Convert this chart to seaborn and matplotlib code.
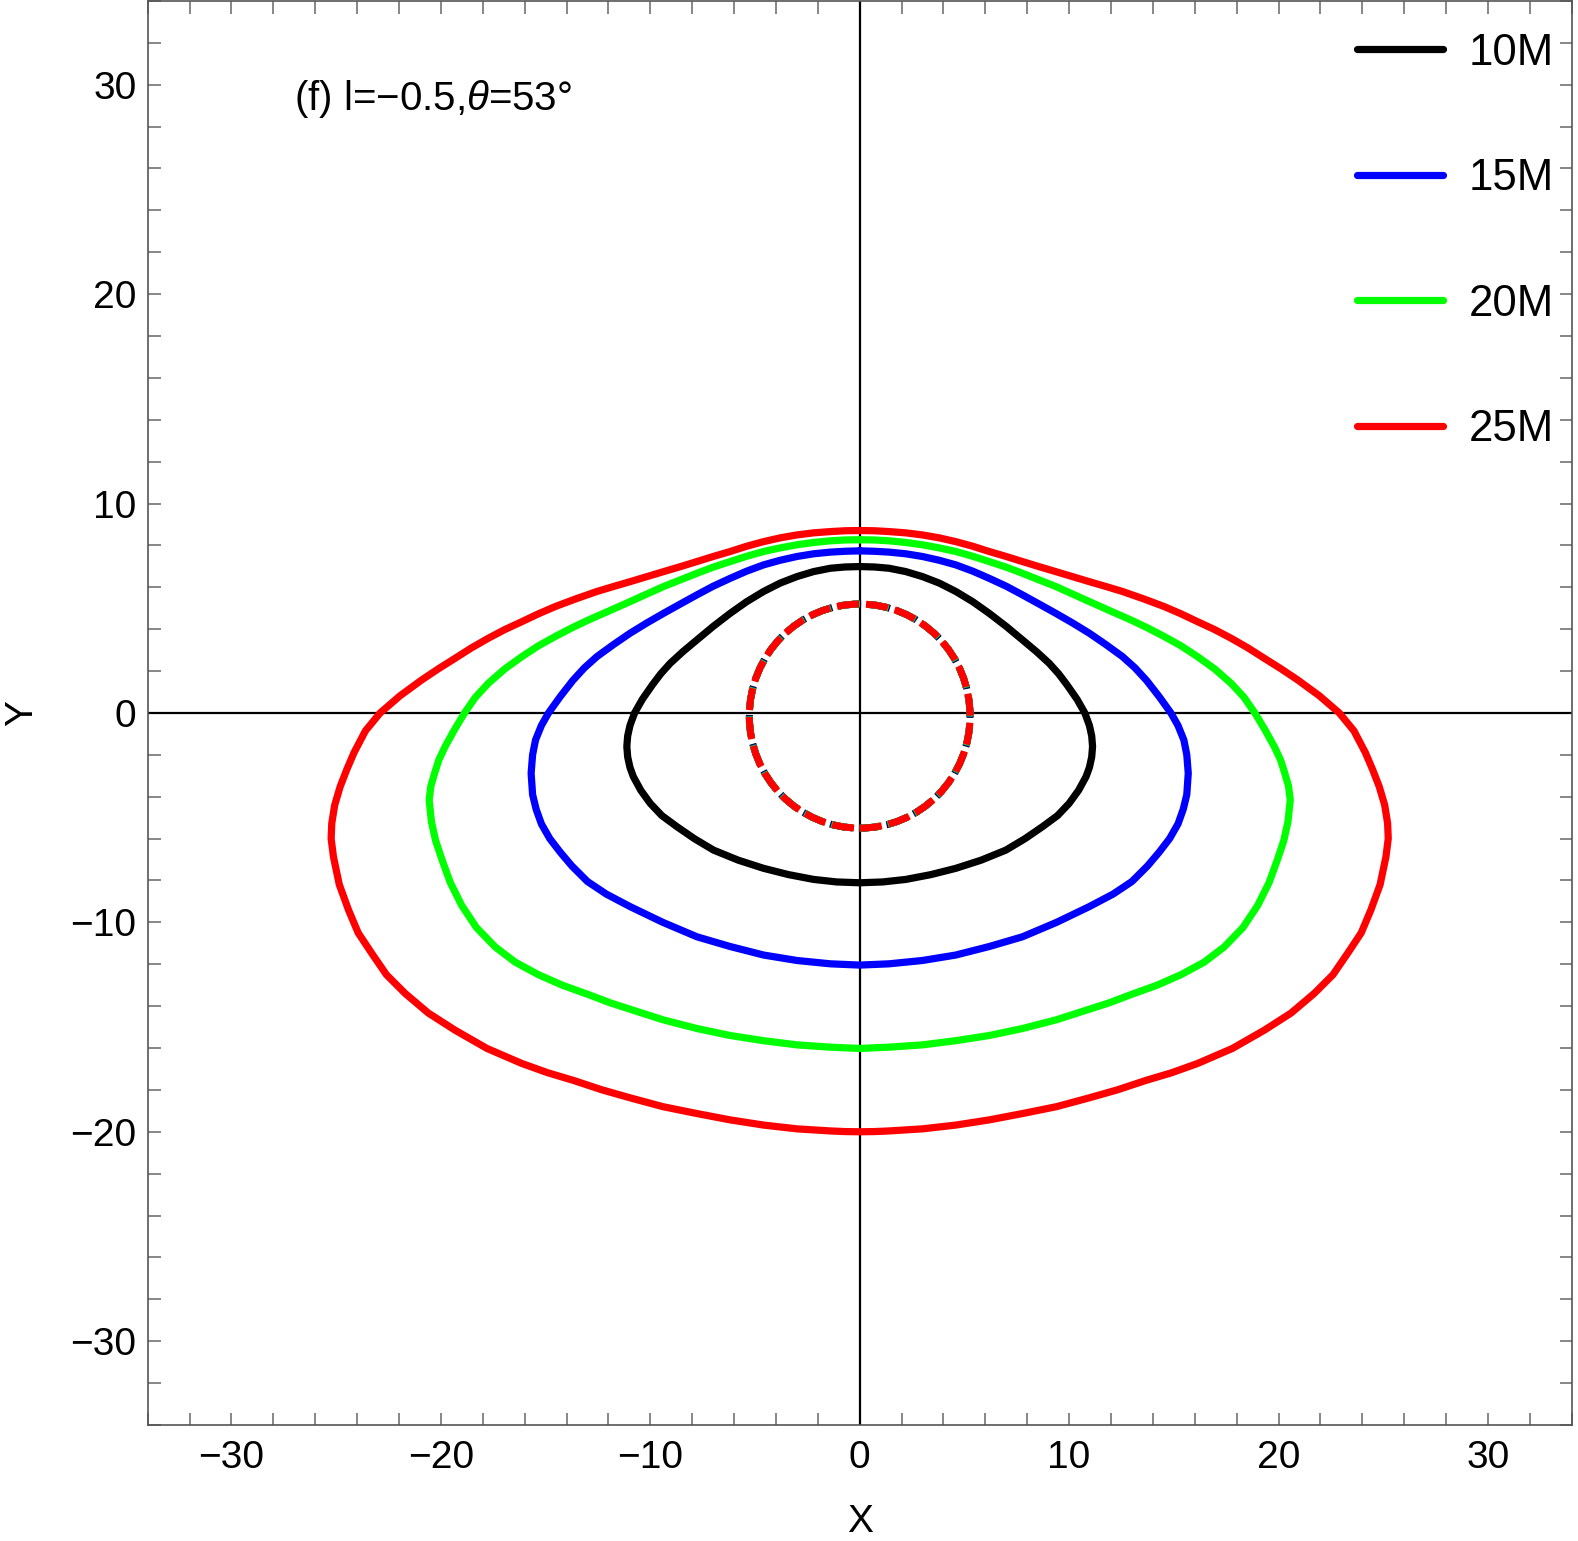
import numpy as np
import pandas as pd
import matplotlib
matplotlib.use('Agg')
import matplotlib.pyplot as plt
from matplotlib.patches import Ellipse
import seaborn as sns

sns.set_style('ticks')
plt.rcParams['font.family'] = ['Liberation Sans', 'DejaVu Sans']
plt.rcParams['mathtext.fontset'] = 'custom'
plt.rcParams['mathtext.it'] = 'Liberation Sans:italic'
plt.rcParams['mathtext.rm'] = 'Liberation Sans'
plt.rcParams['text.color'] = 'black'
plt.rcParams['axes.labelcolor'] = 'black'
plt.rcParams['xtick.labelcolor'] = 'black'
plt.rcParams['ytick.labelcolor'] = 'black'

masses = ['10M', '15M', '20M', '25M']
colors = ['#000000', '#0000ff', '#00ff00', '#ff0000']

# right half of each curve, top (x=0) -> right -> bottom (x=0); curves are mirror symmetric in X
x_10 = [0, 0.7, 1.4, 2.2, 3.0, 3.8, 4.59, 5.4, 6.18, 7.0, 7.77, 8.45, 9.05, 9.5, 9.9, 10.38, 10.75, 10.97, 11.08, 11.12,
        11.08, 10.97, 10.81, 10.45, 10.0, 9.45, 8.73, 7.9, 6.98, 5.8, 4.59, 3.4, 2.2, 1.1, 0]
y_10 = [6.99, 6.97, 6.91, 6.75, 6.51, 6.2, 5.80, 5.31, 4.76, 4.13, 3.49, 2.92, 2.37, 1.87, 1.34, 0.65, 0.0, -0.6, -1.1, -1.6,
        -2.1, -2.6, -3.04, -3.7, -4.32, -4.9, -5.43, -6.0, -6.55, -7.03, -7.42, -7.72, -7.95, -8.07, -8.11]

x_15 = [0, 0.7, 1.4, 2.2, 3.0, 3.8, 4.59, 5.4, 6.18, 7.0, 7.77, 8.55, 9.36, 10.16, 10.96, 11.75, 12.55, 13.15, 13.7, 14.3,
        14.86, 15.2, 15.48, 15.62, 15.69, 15.62, 15.45, 15.2, 14.8, 14.3, 13.75, 13.0, 12.1, 10.96, 9.4, 7.77, 6.2, 4.59,
        3.0, 1.4, 0]
y_15 = [7.74, 7.72, 7.68, 7.6, 7.47, 7.29, 7.07, 6.77, 6.43, 6.05, 5.64, 5.21, 4.76, 4.3, 3.81, 3.27, 2.69, 2.15, 1.55, 0.78,
        0, -0.6, -1.29, -2.0, -2.88, -3.9, -4.6, -5.3, -6.0, -6.65, -7.3, -8.05, -8.65, -9.25, -10.0, -10.69, -11.15, -11.56,
        -11.82, -11.98, -12.04]

x_20 = [0, 0.7, 1.4, 2.2, 3.0, 3.8, 4.59, 5.4, 6.18, 7.0, 7.77, 8.55, 9.36, 10.16, 10.96, 11.95, 12.95, 13.75, 14.54, 15.35,
        16.13, 16.95, 17.73, 18.35, 18.87, 19.35, 19.8, 20.1, 20.3, 20.48, 20.56, 20.45, 20.25, 19.95, 19.55, 19.0, 18.3,
        17.41, 16.45, 15.34, 14.2, 12.95, 11.95, 10.96, 9.4, 7.77, 6.2, 4.59, 3.0, 1.4, 0]
y_20 = [8.27, 8.26, 8.22, 8.14, 8.03, 7.88, 7.71, 7.48, 7.23, 6.96, 6.67, 6.36, 6.04, 5.68, 5.32, 4.88, 4.44, 4.06, 3.65, 3.2,
        2.69, 2.1, 1.42, 0.75, 0, -0.8, -1.61, -2.25, -2.88, -3.5, -4.16, -5.2, -6.1, -7.0, -8.1, -9.2, -10.25,
        -11.17, -11.9, -12.5, -13.0, -13.45, -13.83, -14.15, -14.65, -15.07, -15.4, -15.65, -15.85, -15.96, -16.02]

x_25 = [0, 0.7, 1.4, 2.2, 3.0, 3.8, 4.59, 5.4, 6.18, 7.0, 7.77, 8.55, 9.36, 10.16, 10.96, 11.75, 12.55, 13.55, 14.54, 15.35,
        16.13, 16.95, 17.73, 18.55, 19.32, 20.1, 20.91, 21.95, 22.9, 23.6, 24.15, 24.5, 24.81, 25.07, 25.21, 25.24, 25.13,
        24.85, 24.41, 23.95, 23.3, 22.6, 21.71, 20.6, 19.32, 17.8, 16.13, 14.9, 13.66, 12.3, 10.96, 9.4, 7.77, 6.2, 4.59,
        3.0, 1.4, 0.7, 0]
y_25 = [8.71, 8.7, 8.66, 8.6, 8.5, 8.36, 8.18, 7.96, 7.71, 7.47, 7.23, 6.99, 6.75, 6.51, 6.27, 6.04, 5.8, 5.45, 5.08, 4.73,
        4.36, 3.98, 3.57, 3.1, 2.61, 2.12, 1.58, 0.82, 0, -0.85, -1.9, -2.72, -3.52, -4.4, -5.27, -6.0, -6.87,
        -8.2, -9.41, -10.5, -11.48, -12.5, -13.39, -14.33, -15.15, -16.02, -16.74, -17.18, -17.55, -18.0, -18.38, -18.8,
        -19.13, -19.43, -19.68, -19.86, -19.96, -19.99, -20.0]

# inner dashed ring (same for all masses)
ring_cy = -0.15
ring_rx = 5.27
ring_ry = 5.35

halves = {'10M': (x_10, y_10), '15M': (x_15, y_15), '20M': (x_20, y_20), '25M': (x_25, y_25)}

frames = []
for m in masses:
    hx, hy = np.array(halves[m][0]), np.array(halves[m][1])
    fx = np.r_[hx, -hx[::-1][1:]]
    fy = np.r_[hy, hy[::-1][1:]]
    frames.append(pd.DataFrame({'X': fx, 'Y': fy, 'mass': m}))
df = pd.concat(frames, ignore_index=True)

fig = plt.figure(figsize=(15.78, 15.41), dpi=100)
ax = fig.add_axes([0.0936, 0.0753, 0.9024, 0.9241])

ax.axhline(0, color='black', lw=1.6, zorder=1)
ax.axvline(0, color='black', lw=1.6, zorder=1)

for m, c in zip(masses, colors):
    sub = df[df['mass'] == m]
    sns.lineplot(data=sub, x='X', y='Y', sort=False, estimator=None, color=c,
                 lw=5.2, label=m, ax=ax, zorder=3)

for i, c in enumerate(colors):
    ax.add_patch(Ellipse((0, ring_cy), 2 * ring_rx, 2 * ring_ry, fill=False, edgecolor=c,
                         lw=5.0, linestyle=(0.1 * (3 - i), (3.2, 1.0)), zorder=4 + i))

ax.set_xlim(-34, 34)
ax.set_ylim(-34, 34)
ax.set_xticks(np.arange(-30, 31, 10))
ax.set_yticks(np.arange(-30, 31, 10))
ax.set_xticks(np.arange(-34, 35, 2), minor=True)
ax.set_yticks(np.arange(-34, 35, 2), minor=True)
ax.tick_params(which='both', direction='in', top=True, right=True, length=9, width=1.1,
               color='#666666', labelsize=28)
ax.tick_params(axis='x', which='major', pad=11)
ax.tick_params(axis='y', which='major', pad=8)
for s in ax.spines.values():
    s.set_color('#555555')
    s.set_linewidth(1.2)

ax.set_xlabel('X', fontsize=28, labelpad=20)
ax.set_ylabel('Y', fontsize=28, labelpad=22)

ax.text(-27.0, 29.3, r'(f) l=−0.5,$\theta$=53°', fontsize=29, va='center', ha='left')

leg = ax.legend(loc='upper right', bbox_to_anchor=(1.003, 0.993), fontsize=31.5, frameon=False,
                handlelength=1.95, handletextpad=0.6, labelspacing=1.93, borderpad=0, borderaxespad=0.5)
for h in leg.get_lines():
    h.set_linewidth(5.2)

fig.savefig('out.png', dpi=100)
